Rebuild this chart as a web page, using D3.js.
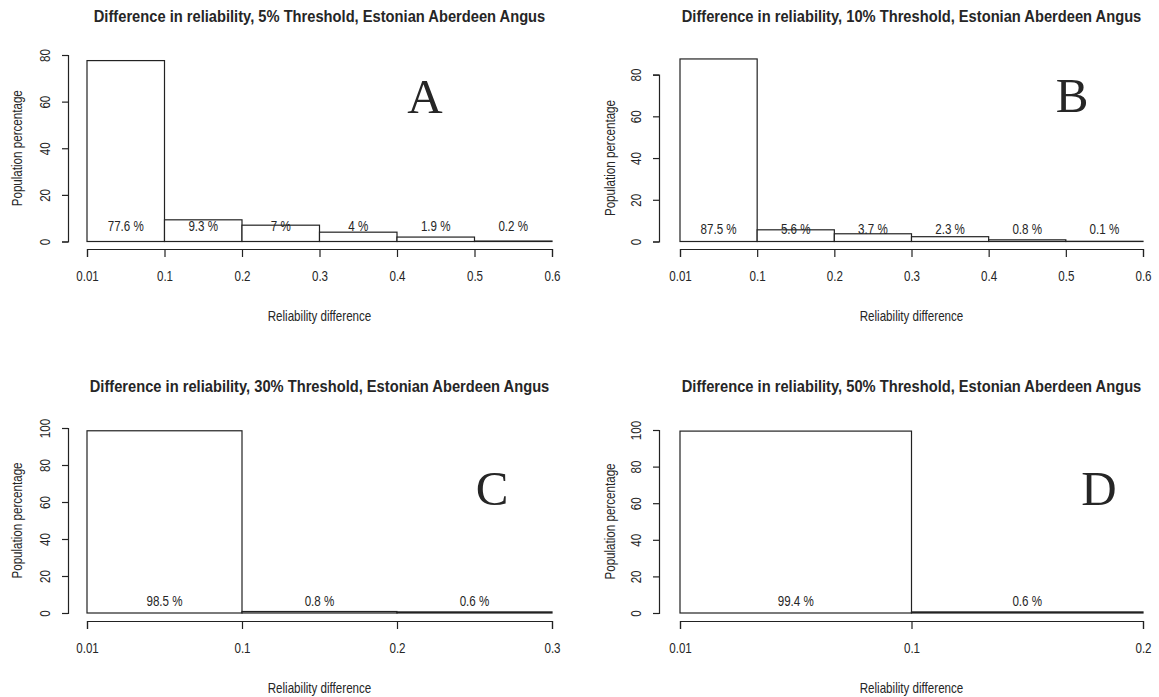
<!DOCTYPE html>
<html>
<head>
<meta charset="utf-8">
<script src="https://cdn.jsdelivr.net/npm/d3@7"></script>
<style>
  html, body { margin: 0; padding: 0; background: #fff; }
  svg { display: block; }
  text { font-family: "Liberation Sans", Arial, Helvetica, sans-serif; fill: #262626; }
</style>
</head>
<body>
<svg id="chart" width="1159" height="697"></svg>
<script>
// ---------------- DATA ----------------
const titles = [
  "Difference in reliability, 5% Threshold, Estonian Aberdeen Angus",
  "Difference in reliability, 10% Threshold, Estonian Aberdeen Angus",
  "Difference in reliability, 30% Threshold, Estonian Aberdeen Angus",
  "Difference in reliability, 50% Threshold, Estonian Aberdeen Angus"
];
const panelLetters = ["A", "B", "C", "D"];
const xAxisTitle = "Reliability difference";
const yAxisTitle = "Population percentage";

const binEdgesA = ["0.01", "0.1", "0.2", "0.3", "0.4", "0.5", "0.6"];
const valuesA = [77.6, 9.3, 7, 4, 1.9, 0.2];
const yTicksA = [0, 20, 40, 60, 80];

const binEdgesB = ["0.01", "0.1", "0.2", "0.3", "0.4", "0.5", "0.6"];
const valuesB = [87.5, 5.6, 3.7, 2.3, 0.8, 0.1];
const yTicksB = [0, 20, 40, 60, 80];

const binEdgesC = ["0.01", "0.1", "0.2", "0.3"];
const valuesC = [98.5, 0.8, 0.6];
const yTicksC = [0, 20, 40, 60, 80, 100];

const binEdgesD = ["0.01", "0.1", "0.2"];
const valuesD = [99.4, 0.6];
const yTicksD = [0, 20, 40, 60, 80, 100];

// ---------------- LAYOUT ----------------
const layouts = [
  { x0: 87,  x1: 552,  yAxisX: 68,  y0: 241.5, yTop: 55,   xAxisY: 249, titleY: 22,  valLabelY: 231, xLabY: 321, yLabX: 17,  letterX: 425,  letterY: 113, titleW: 452 },
  { x0: 680, x1: 1143, yAxisX: 659, y0: 241.5, yTop: 74.6, xAxisY: 249, titleY: 22,  valLabelY: 234, xLabY: 321, yLabX: 610, letterX: 1072, letterY: 112, titleW: 460 },
  { x0: 87,  x1: 552,  yAxisX: 68,  y0: 613,   yTop: 428,  xAxisY: 621, titleY: 392, valLabelY: 606, xLabY: 693, yLabX: 17,  letterX: 492,  letterY: 505, titleW: 460 },
  { x0: 680, x1: 1143, yAxisX: 659, y0: 613,   yTop: 430,  xAxisY: 621, titleY: 392, valLabelY: 606, xLabY: 693, yLabX: 610, letterX: 1099, letterY: 505, titleW: 460 }
];

const panels = [
  { edges: binEdgesA, values: valuesA, yTicks: yTicksA },
  { edges: binEdgesB, values: valuesB, yTicks: yTicksB },
  { edges: binEdgesC, values: valuesC, yTicks: yTicksC },
  { edges: binEdgesD, values: valuesD, yTicks: yTicksD }
];

const svg = d3.select("#chart");
const ink = "#222";
const fs = 14.5;
const squeeze = 0.8;

panels.forEach((p, i) => {
  const L = layouts[i];
  const g = svg.append("g");

  const x = d3.scalePoint().domain(p.edges).range([L.x0, L.x1]);
  const yMax = p.yTicks[p.yTicks.length - 1];
  const y = d3.scaleLinear().domain([0, yMax]).range([L.y0, L.yTop]);

  // bars
  const bins = p.values.map((v, k) => ({ v, a: p.edges[k], b: p.edges[k + 1] }));
  g.selectAll("rect.bar").data(bins).join("rect")
    .attr("class", "bar")
    .attr("x", d => x(d.a))
    .attr("width", d => x(d.b) - x(d.a))
    .attr("y", d => y(d.v))
    .attr("height", d => Math.max(0.01, y(0) - y(d.v)))
    .attr("fill", "#fff")
    .attr("stroke", ink)
    .attr("stroke-width", 1.2);

  // value labels
  g.selectAll("text.val").data(bins).join("text")
    .attr("class", "val cmp")
    .attr("x", d => (x(d.a) + x(d.b)) / 2)
    .attr("y", L.valLabelY)
    .attr("text-anchor", "middle")
    .attr("font-size", fs)
    .text(d => d.v + " %");

  // x axis
  const xa = g.append("g")
    .attr("transform", `translate(0,${L.xAxisY})`)
    .call(d3.axisBottom(x).tickSizeOuter(0).tickSize(8).tickPadding(14));
  xa.selectAll("path.domain").attr("stroke", ink).attr("stroke-width", 1.2);
  xa.selectAll(".tick line").attr("stroke", ink).attr("stroke-width", 1.2);
  xa.selectAll(".tick text").attr("class", "cmp").attr("font-size", fs)
    .attr("font-family", null).attr("fill", "#262626");

  // y axis
  const ya = g.append("g")
    .attr("transform", `translate(${L.yAxisX},0)`)
    .call(d3.axisLeft(y).tickValues(p.yTicks).tickSizeOuter(0).tickSize(6).tickFormat(d3.format("d")));
  ya.selectAll("path.domain").attr("stroke", ink).attr("stroke-width", 1.2);
  ya.selectAll(".tick line").attr("stroke", ink).attr("stroke-width", 1.2);
  ya.selectAll(".tick text")
    .attr("class", "cmp")
    .attr("font-size", fs).attr("font-family", null).attr("fill", "#262626")
    .attr("x", null).attr("dy", null)
    .attr("text-anchor", "middle")
    .attr("transform", "translate(-18,0) rotate(-90)")
    .attr("y", 0);

  // axis titles
  g.append("text")
    .attr("class", "cmp")
    .attr("x", (L.x0 + L.x1) / 2)
    .attr("y", L.xLabY)
    .attr("text-anchor", "middle")
    .attr("font-size", fs)
    .text(xAxisTitle);

  g.append("text")
    .attr("class", "cmp")
    .attr("transform", `translate(${L.yLabX + 5},${(L.y0 + L.yTop) / 2}) rotate(-90)`)
    .attr("text-anchor", "middle")
    .attr("font-size", fs)
    .text(yAxisTitle);

  // main title (condensed with a horizontal scale so its box stays in view)
  const t = g.append("text")
    .attr("text-anchor", "middle")
    .attr("font-size", 17)
    .attr("font-weight", "bold")
    .attr("fill", "#111")
    .text(titles[i]);
  const natural = t.node().getComputedTextLength();
  t.attr("transform", `translate(${(L.x0 + L.x1) / 2},${L.titleY}) scale(${L.titleW / natural},1)`);

  // panel letter
  g.append("text")
    .attr("x", L.letterX)
    .attr("y", L.letterY)
    .attr("text-anchor", "middle")
    .attr("font-size", 49)
    .style("font-family", '"Liberation Serif", "Times New Roman", serif')
    .attr("fill", "#000")
    .text(panelLetters[i]);
});

// horizontally condense the R-style labels
svg.selectAll("text.cmp").each(function() {
  const len = this.getComputedTextLength();
  d3.select(this).attr("textLength", len * squeeze).attr("lengthAdjust", "spacingAndGlyphs");
});
</script>
</body>
</html>
